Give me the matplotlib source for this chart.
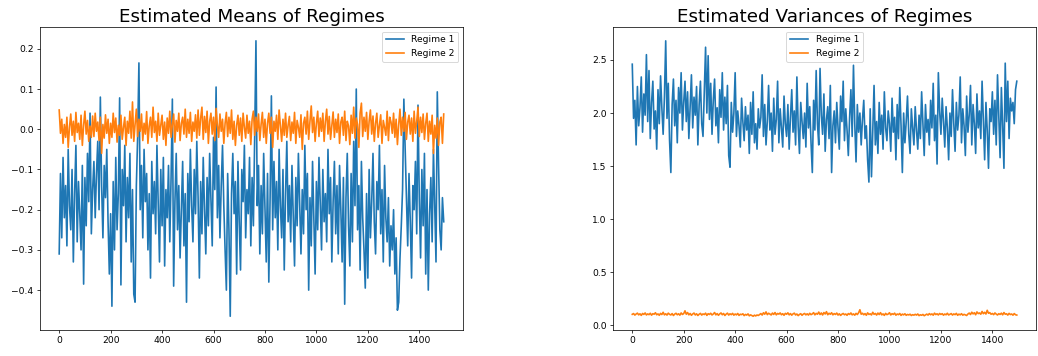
import numpy as np
import matplotlib
matplotlib.use("Agg")
import matplotlib.pyplot as plt

# индексы наблюдений (каждая 5-я точка)
steps = np.arange(0, 1500, 5)

# оценённые средние, режим 1
mean_r1 = [
    -0.31, -0.11, -0.27, -0.07, -0.22, -0.14, -0.29, -0.05, -0.19, -0.25, -0.10, -0.33, -0.16, -0.04, -0.28, -0.13, -0.21, -0.30, -0.09, -0.385,
    -0.12, -0.24, -0.06, -0.18, 0.04, -0.26, -0.15, -0.08, -0.22, -0.11, -0.03, -0.20, 0.08, -0.14, -0.27, -0.09, -0.17, -0.05, -0.23, -0.36,
    -0.21, -0.44, -0.13, -0.30, -0.07, -0.25, -0.16, 0.078, -0.387, -0.10, -0.19, -0.04, -0.28, -0.12, -0.22, -0.06, -0.33, -0.15, -0.41, -0.43,
    -0.14, -0.02, 0.165, -0.20, -0.09, -0.27, -0.05, -0.18, -0.11, -0.30, -0.16, -0.37, -0.08, -0.21, -0.13, -0.26, -0.04, -0.19, -0.33, -0.10,
    -0.24, -0.07, -0.34, -0.15, -0.22, -0.09, -0.28, -0.12, 0.075, -0.39, -0.18, -0.06, -0.25, -0.14, -0.32, -0.20, -0.08, -0.29, -0.16, -0.43,
    -0.11, -0.23, -0.05, -0.19, -0.28, -0.10, -0.21, -0.03, -0.17, -0.37, -0.13, -0.26, -0.07, -0.20, -0.31, -0.12, -0.24, -0.06, -0.18, -0.29,
    -0.02, -0.15, 0.105, -0.22, -0.09, -0.27, -0.14, -0.04, -0.19, -0.30, -0.40, -0.11, -0.25, -0.465, -0.16, -0.06, -0.21, -0.13, -0.36, -0.08,
    -0.23, -0.35, -0.10, -0.18, -0.04, -0.27, -0.15, -0.21, -0.07, -0.29, -0.12, -0.24, -0.02, 0.22, -0.19, -0.09, -0.31, -0.14, -0.26, -0.06,
    -0.20, -0.33, -0.11, -0.38, -0.17, 0.083, -0.25, -0.08, -0.22, -0.13, -0.30, -0.05, -0.19, -0.27, -0.10, -0.35, -0.16, -0.03, -0.23, -0.14,
    -0.28, -0.09, -0.21, -0.34, -0.12, -0.24, -0.06, -0.18, -0.31, -0.15, -0.26, -0.04, -0.20, -0.11, -0.40, -0.17, -0.29, -0.08, -0.22, -0.36,
    -0.13, -0.25, -0.07, -0.19, -0.30, -0.10, -0.23, -0.16, -0.28, -0.05, -0.21, -0.12, -0.33, -0.18, -0.08, -0.26, -0.14, -0.31, -0.09, -0.20,
    -0.33, -0.12, -0.435, -0.17, -0.06, -0.24, -0.34, -0.11, -0.28, -0.03, -0.19, 0.10, -0.25, -0.14, -0.35, -0.08, -0.22, -0.30, -0.395, -0.16,
    -0.37, -0.10, -0.27, -0.18, -0.06, -0.23, -0.31, -0.13, -0.20, -0.04, -0.26, -0.15, -0.33, -0.09, -0.22, -0.28, -0.17, -0.34, -0.24, -0.30,
    -0.20, -0.36, -0.27, -0.45, -0.43, -0.32, -0.24, -0.15, 0.075, -0.05, -0.18, -0.29, -0.11, -0.23, -0.37, -0.14, -0.20, -0.08, -0.26, 0.06,
    -0.17, -0.32, -0.10, -0.24, -0.06, -0.36, -0.15, -0.40, -0.21, -0.12, -0.28, -0.05, -0.19, -0.33, 0.093, -0.09, -0.25, -0.30, -0.17, -0.23,
]

# оценённые средние, режим 2
mean_r2 = [
    0.048, -0.010, 0.025, -0.035, 0.012, -0.020, 0.030, -0.045, 0.005, 0.038, -0.015, 0.020, -0.030, 0.042, -0.008, 0.015, -0.025, 0.035, -0.040, 0.010,
    0.045, -0.012, 0.022, -0.030, 0.008, -0.020, 0.033, -0.018, 0.040, -0.005, 0.018, -0.028, 0.030, -0.060, 0.012, -0.022, 0.036, -0.010, 0.025, -0.035,
    0.015, -0.020, 0.040, -0.008, 0.028, -0.032, 0.010, -0.015, 0.035, -0.025, 0.005, 0.030, -0.040, 0.020, -0.010, 0.045, -0.022, 0.068, -0.030, 0.012,
    0.050, -0.018, 0.025, -0.005, 0.038, -0.028, 0.015, -0.012, 0.044, -0.035, 0.008, 0.030, -0.020, 0.055, -0.008, 0.020, -0.030, 0.040, -0.015, 0.010,
    0.035, -0.025, 0.018, -0.040, 0.028, -0.010, 0.045, -0.020, 0.012, 0.038, -0.032, 0.022, -0.005, 0.040, -0.028, 0.015, 0.030, -0.012, 0.050, -0.020,
    0.025, -0.010, 0.042, -0.030, 0.018, -0.005, 0.036, -0.022, 0.048, -0.015, 0.028, 0.055, -0.025, 0.032, -0.008, 0.045, -0.035, 0.020, 0.040, -0.012,
    0.030, -0.028, 0.052, 0.010, -0.020, 0.038, -0.005, 0.025, -0.035, 0.015, 0.042, -0.018, 0.030, -0.010, 0.048, -0.025, 0.020, -0.040, 0.010, 0.035,
    -0.015, 0.028, -0.030, 0.040, 0.005, -0.022, 0.035, -0.010, 0.020, -0.038, 0.025, 0.045, -0.015, 0.030, -0.005, 0.038, -0.028, 0.012, 0.042, -0.020,
    0.025, -0.035, 0.015, 0.040, -0.010, 0.030, -0.045, 0.020, -0.005, 0.035, -0.025, 0.048, 0.008, -0.030, 0.025, -0.015, 0.040, -0.020, 0.010, 0.032,
    -0.028, 0.018, -0.010, 0.042, -0.035, 0.022, 0.005, -0.020, 0.036, -0.050, 0.015, 0.030, -0.012, 0.045, -0.025, 0.020, 0.058, -0.008, 0.030, -0.030,
    0.015, 0.045, -0.018, 0.028, -0.005, 0.040, -0.030, 0.020, 0.050, -0.012, 0.032, -0.025, 0.010, 0.043, -0.020, 0.025, -0.008, 0.038, -0.035, 0.018,
    0.030, -0.015, 0.045, -0.028, 0.020, 0.008, -0.038, 0.035, -0.010, 0.055, -0.022, 0.028, 0.012, -0.045, 0.040, 0.065, -0.018, 0.030, -0.005, 0.042,
    -0.025, 0.020, 0.048, -0.012, 0.033, -0.030, 0.015, 0.040, -0.020, 0.010, 0.036, -0.035, 0.022, 0.005, -0.015, 0.045, -0.028, 0.030, 0.018, -0.010,
    0.040, -0.020, 0.025, -0.038, 0.012, 0.050, -0.015, 0.030, -0.005, 0.042, -0.025, 0.018, 0.035, -0.012, 0.028, -0.030, 0.045, -0.010, 0.020, 0.055,
    -0.018, 0.030, -0.008, 0.038, -0.025, 0.015, 0.040, -0.030, 0.020, -0.012, 0.035, -0.060, 0.010, -0.022, 0.028, -0.040, 0.018, 0.030, -0.035, 0.038,
]

# оценённые дисперсии, режим 1
var_r1 = [
    2.46, 1.95, 2.12, 1.70, 2.25, 1.88, 2.05, 2.34, 1.82, 2.18, 1.98, 2.55, 1.92, 2.40, 1.76, 2.10, 2.30, 1.85, 2.02, 1.66,
    2.22, 1.90, 2.35, 2.05, 1.80, 2.15, 2.68, 1.95, 2.28, 1.74, 1.44, 2.08, 2.32, 1.88, 2.12, 1.72, 2.24, 2.00, 2.38, 1.84,
    2.10, 2.30, 1.92, 2.20, 1.76, 2.05, 2.36, 1.86, 2.15, 1.98, 2.25, 1.70, 2.08, 2.30, 1.90, 1.78, 2.20, 2.62, 2.00, 2.54,
    1.94, 2.28, 1.80, 2.12, 2.32, 1.88, 2.05, 1.72, 2.22, 1.96, 2.38, 1.84, 2.15, 1.90, 2.26, 1.60, 1.49, 2.10, 1.82, 2.00,
    2.38, 1.78, 2.02, 1.88, 1.68, 2.14, 1.92, 1.74, 2.06, 1.84, 1.98, 1.62, 2.10, 1.80, 2.20, 1.72, 1.90, 1.66, 2.04, 1.86,
    1.96, 2.36, 1.78, 2.08, 1.70, 1.92, 2.26, 1.84, 2.00, 1.64, 2.14, 1.80, 1.94, 2.30, 1.72, 2.04, 1.86, 1.68, 2.16, 1.90,
    1.78, 2.08, 1.66, 1.96, 2.22, 1.82, 2.02, 1.70, 2.34, 1.88, 1.62, 2.10, 1.92, 1.76, 2.00, 1.68, 2.28, 1.86, 2.06, 1.72,
    1.44, 2.12, 1.84, 2.40, 1.90, 1.70, 2.42, 1.98, 1.80, 2.18, 1.64, 1.94, 2.06, 1.76, 2.26, 1.44, 1.88, 2.02, 1.72, 2.10,
    1.86, 1.66, 2.16, 1.92, 2.30, 1.74, 2.04, 1.84, 1.60, 1.96, 2.22, 1.78, 2.45, 1.90, 1.54, 2.08, 1.82, 2.00, 1.70, 1.94,
    2.12, 1.76, 1.88, 1.56, 1.35, 2.04, 1.40, 1.84, 2.26, 1.70, 1.92, 1.62, 2.10, 1.80, 1.98, 1.66, 2.20, 1.86, 1.74, 2.02,
    1.90, 1.64, 2.14, 1.82, 1.96, 1.56, 2.08, 1.76, 2.24, 1.88, 1.44, 2.00, 1.72, 1.92, 2.16, 1.80, 1.62, 2.04, 1.86, 1.70,
    2.06, 1.84, 1.66, 1.98, 1.76, 2.20, 1.90, 1.60, 2.08, 1.82, 1.94, 1.70, 2.12, 1.86, 2.28, 1.74, 1.98, 1.52, 2.38, 2.02,
    1.80, 2.14, 1.92, 1.68, 2.06, 1.86, 1.56, 2.00, 1.78, 2.22, 1.90, 1.64, 2.10, 1.84, 1.98, 2.34, 1.72, 2.04, 1.88, 1.60,
    2.16, 1.82, 1.98, 2.26, 1.70, 2.08, 1.90, 1.62, 2.18, 1.86, 2.02, 1.76, 2.30, 1.94, 1.56, 2.10, 1.84, 1.48, 2.04, 1.92,
    2.20, 1.80, 2.12, 1.70, 2.36, 1.96, 1.58, 2.24, 1.88, 1.48, 2.47, 1.92, 2.30, 1.76, 2.14, 2.02, 2.10, 1.90, 2.22, 2.30,
]

# оценённые дисперсии, режим 2
var_r2 = [
    0.105, 0.112, 0.098, 0.108, 0.116, 0.100, 0.110, 0.095, 0.113, 0.104, 0.118, 0.099, 0.109, 0.102, 0.115, 0.097, 0.111, 0.106, 0.120, 0.101,
    0.109, 0.096, 0.114, 0.103, 0.124, 0.100, 0.110, 0.098, 0.116, 0.105, 0.099, 0.112, 0.094, 0.107, 0.115, 0.101, 0.110, 0.097, 0.118, 0.104,
    0.112, 0.138, 0.106, 0.122, 0.100, 0.113, 0.096, 0.108, 0.117, 0.099, 0.110, 0.094, 0.106, 0.114, 0.098, 0.109, 0.103, 0.116, 0.095, 0.111,
    0.104, 0.115, 0.099, 0.108, 0.122, 0.100, 0.112, 0.096, 0.109, 0.118, 0.101, 0.113, 0.094, 0.107, 0.116, 0.098, 0.110, 0.102, 0.114, 0.097,
    0.108, 0.100, 0.113, 0.095, 0.106, 0.102, 0.110, 0.093, 0.104, 0.098, 0.109, 0.091, 0.100, 0.094, 0.087, 0.097, 0.090, 0.099, 0.094, 0.103,
    0.112, 0.098, 0.120, 0.106, 0.128, 0.102, 0.115, 0.108, 0.099, 0.117, 0.104, 0.122, 0.100, 0.113, 0.107, 0.118, 0.101, 0.111, 0.096, 0.114,
    0.106, 0.119, 0.100, 0.112, 0.097, 0.109, 0.116, 0.099, 0.108, 0.093, 0.104, 0.111, 0.096, 0.107, 0.113, 0.100, 0.110, 0.098, 0.115, 0.102,
    0.109, 0.121, 0.100, 0.114, 0.106, 0.126, 0.103, 0.118, 0.099, 0.122, 0.108, 0.130, 0.101, 0.115, 0.106, 0.120, 0.100, 0.112, 0.104, 0.117,
    0.098, 0.110, 0.095, 0.106, 0.113, 0.101, 0.108, 0.096, 0.112, 0.104, 0.118, 0.100, 0.109, 0.097, 0.114, 0.103, 0.120, 0.148, 0.106, 0.115,
    0.101, 0.112, 0.096, 0.119, 0.104, 0.110, 0.099, 0.124, 0.105, 0.113, 0.098, 0.117, 0.103, 0.121, 0.100, 0.109, 0.095, 0.114, 0.102, 0.108,
    0.120, 0.099, 0.111, 0.104, 0.116, 0.097, 0.108, 0.102, 0.113, 0.095, 0.107, 0.100, 0.110, 0.096, 0.104, 0.099, 0.106, 0.094, 0.102, 0.097,
    0.105, 0.098, 0.108, 0.093, 0.101, 0.096, 0.104, 0.092, 0.100, 0.107, 0.098, 0.112, 0.101, 0.109, 0.097, 0.116, 0.103, 0.110, 0.099, 0.113,
    0.104, 0.111, 0.097, 0.108, 0.101, 0.115, 0.099, 0.106, 0.112, 0.098, 0.109, 0.102, 0.114, 0.096, 0.107, 0.100, 0.111, 0.097, 0.105, 0.099,
    0.094, 0.108, 0.117, 0.103, 0.125, 0.109, 0.120, 0.101, 0.128, 0.112, 0.118, 0.106, 0.132, 0.111, 0.124, 0.108, 0.143, 0.115, 0.121, 0.106,
    0.113, 0.102, 0.118, 0.107, 0.099, 0.111, 0.104, 0.116, 0.100, 0.122, 0.106, 0.110, 0.098, 0.114, 0.103, 0.108, 0.097, 0.112, 0.101, 0.098,
]

dpi = 66
lw = 1.8
fig = plt.figure(figsize=(1038 / dpi, 356 / dpi), dpi=dpi)

# средние
ax1 = fig.add_axes([0.0385, 0.073, 0.4075, 0.851])
ax1.plot(steps, mean_r1, lw=lw, label='Regime 1')
ax1.plot(steps, mean_r2, lw=lw, label='Regime 2')
ax1.set_title('Estimated Means of Regimes', fontsize=20)
ax1.legend(loc='upper right')

# дисперсии
ax2 = fig.add_axes([0.5906, 0.073, 0.4075, 0.851])
ax2.plot(steps, var_r1, lw=lw, label='Regime 1')
ax2.plot(steps, var_r2, lw=lw, label='Regime 2')
ax2.set_title('Estimated Variances of Regimes', fontsize=20)
ax2.legend(loc='upper center')

fig.savefig('out.png', dpi=dpi)
